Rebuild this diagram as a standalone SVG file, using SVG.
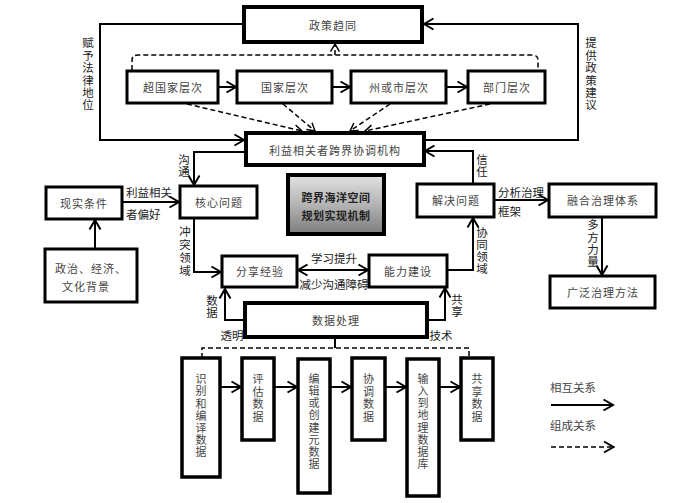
<svg xmlns="http://www.w3.org/2000/svg" width="700" height="503" viewBox="0 0 700 503">
<defs>
<marker id="ah" viewBox="0 0 10 12" refX="9.5" refY="6" markerWidth="10" markerHeight="12" markerUnits="userSpaceOnUse" orient="auto-start-reverse" overflow="visible">
<path d="M0,0.5 L9.5,6 L0,11.5" fill="none" stroke="#000" stroke-width="2"/>
</marker>
<marker id="ahs" viewBox="0 0 10 12" refX="9.5" refY="6" markerWidth="8" markerHeight="10" markerUnits="userSpaceOnUse" orient="auto" overflow="visible">
<path d="M0,0.5 L9.5,6 L0,11.5" fill="none" stroke="#000" stroke-width="1.8"/>
</marker>
<linearGradient id="g" x1="0" y1="0" x2="0" y2="1">
<stop offset="0" stop-color="#e2e2e2"/>
<stop offset="0.5" stop-color="#b4b4b4"/>
<stop offset="1" stop-color="#7c7c7c"/>
</linearGradient>
<style>
text{font-family:"Noto Sans CJK SC","Noto Sans CJK JP",sans-serif;}
.bx{fill:#fff;stroke:#000;stroke-width:3;}
.bk{fill:#fff;stroke:#000;stroke-width:4;}
.bt{font-size:11px;fill:#444;text-anchor:middle;dominant-baseline:central;letter-spacing:1px;}
.vt{font-size:11px;fill:#444;writing-mode:vertical-rl;dominant-baseline:central;}
.lb{font-size:11.5px;fill:#222;dominant-baseline:central;}
.lv{font-size:11.5px;fill:#222;writing-mode:vertical-rl;dominant-baseline:central;}
.c{fill:none;stroke:#000;stroke-width:2;}
.ca{fill:none;stroke:#000;stroke-width:2;marker-end:url(#ah);}
.d{fill:none;stroke:#000;stroke-width:1.5;stroke-dasharray:5,3;}
.da{fill:none;stroke:#000;stroke-width:1.5;stroke-dasharray:5,3;marker-end:url(#ahs);}
</style>
</defs>
<rect width="700" height="503" fill="#fff"/>

<g id="connectors">
<path class="ca" d="M244,24 H100 V140 H244"/>
<path class="ca" d="M426,140 H578 V24 H424"/>
<path class="ca" d="M218,87 H236"/>
<path class="ca" d="M332,87 H350"/>
<path class="ca" d="M446,87 H467"/>
<path class="da" d="M187,104 L302,131"/>
<path class="da" d="M283,104 L315,131"/>
<path class="da" d="M390,104 L350,131"/>
<path class="da" d="M490,104 L365,131"/>
<path class="d" d="M132,70 V60 Q132,55 138,55 H532 Q538,55 538,60 V70"/>
<path class="da" d="M335,55 V44"/>
<path class="ca" d="M246,152 H194 V185"/>
<path class="ca" d="M122,202 H179"/>
<path class="ca" d="M95,249 V220"/>
<path class="ca" d="M194,218 V272 H221"/>
<path class="ca" d="M298,270 H368" style="marker-start:url(#ah)"/>
<path class="ca" d="M473,184 V151 H425"/>
<path class="ca" d="M447,270 H473 V218"/>
<path class="ca" d="M494,200 H548"/>
<path class="ca" d="M602,217 V275"/>
<path class="ca" d="M245,320 H225 V289"/>
<path class="ca" d="M427,320 H445 V288"/>
<path class="c" d="M335,337 V348"/>
<path class="d" d="M202,358 V348 H469 V358"/>
<path class="ca" d="M220,387 H241"/>
<path class="ca" d="M274,387 H297"/>
<path class="ca" d="M330,387 H351"/>
<path class="ca" d="M385,387 H406"/>
<path class="ca" d="M439,387 H460"/>
<path class="ca" d="M551,405 H613"/>
<path class="d" d="M551,447 H611"/>
<path d="M604,441.5 L613.5,447 L604,452.5" fill="none" stroke="#000" stroke-width="2"/>
</g>

<g id="labels">
<text class="lv" x="88" y="37.25" style="letter-spacing:0.9px">赋予法律地位</text>
<text class="lv" x="591" y="37.25" style="letter-spacing:0.9px">提供政策建议</text>
<text class="lv" x="184" y="154.25" style="letter-spacing:0.5px">沟通</text>
<text class="lb" x="126" y="192">利益相关</text>
<text class="lb" x="126" y="214">者偏好</text>
<text class="lv" x="185" y="226.25" style="letter-spacing:1.5px">冲突领域</text>
<text class="lb" x="334" y="258" text-anchor="middle">学习提升</text>
<text class="lb" x="334" y="284" text-anchor="middle">减少沟通障碍</text>
<text class="lv" x="212" y="295.25" style="letter-spacing:0.5px">数据</text>
<text class="lb" x="232" y="335" text-anchor="middle">透明</text>
<text class="lv" x="457" y="294.25" style="letter-spacing:0.5px">共享</text>
<text class="lb" x="441" y="335" text-anchor="middle">技术</text>
<text class="lv" x="482" y="154.25" style="letter-spacing:0.5px">信任</text>
<text class="lv" x="482" y="227.25" style="letter-spacing:0.5px">协同领域</text>
<text class="lb" x="498" y="192">分析治理</text>
<text class="lb" x="498" y="211">框架</text>
<text class="lv" x="593" y="219.25" style="letter-spacing:0.8px">多方力量</text>
<text class="lb" x="550" y="387" style="fill:#444">相互关系</text>
<text class="lb" x="550" y="425" style="fill:#444">组成关系</text>
</g>

<g id="n-zcqt"><rect class="bk" x="244" y="7" width="178" height="35"/><text class="bt" x="333" y="25">政策趋同</text></g>
<g id="n-cgj"><rect class="bx" x="127" y="71" width="91" height="32"/><text class="bt" x="173" y="87">超国家层次</text></g>
<g id="n-gj"><rect class="bx" x="237" y="71" width="95" height="32"/><text class="bt" x="285" y="87">国家层次</text></g>
<g id="n-zhs"><rect class="bx" x="351" y="71" width="95" height="32"/><text class="bt" x="399" y="87">州或市层次</text></g>
<g id="n-bm"><rect class="bx" x="468" y="71" width="77" height="32"/><text class="bt" x="507" y="87">部门层次</text></g>
<g id="n-lyxg"><rect class="bk" x="246" y="133" width="178" height="32"/><text class="bt" x="335" y="150">利益相关者跨界协调机构</text></g>
<g id="n-xstj"><rect class="bx" x="46" y="187" width="76" height="32"/><text class="bt" x="84" y="203">现实条件</text></g>
<g id="n-hxwt"><rect class="bx" x="180" y="186" width="77" height="32"/><text class="bt" x="219" y="202">核心问题</text></g>
<g id="n-kj"><rect x="288" y="175" width="96" height="59" fill="url(#g)" stroke="#000" stroke-width="4"/><text class="bt" x="336" y="197" style="fill:#222;font-weight:bold;letter-spacing:0.5px">跨界海洋空间</text><text class="bt" x="336" y="215" style="fill:#222;font-weight:bold;letter-spacing:0.5px">规划实现机制</text></g>
<g id="n-jjwt"><rect class="bx" x="417" y="184" width="77" height="33"/><text class="bt" x="456" y="200">解决问题</text></g>
<g id="n-rh"><rect class="bx" x="549" y="184" width="107" height="33"/><text class="bt" x="603" y="200">融合治理体系</text></g>
<g id="n-zz"><rect class="bx" x="45" y="249" width="92" height="53"/><text class="bt" x="91" y="268">政治、经济、</text><text class="bt" x="86" y="286">文化背景</text></g>
<g id="n-fxjy"><rect class="bx" x="222" y="256" width="75" height="31"/><text class="bt" x="260" y="271">分享经验</text></g>
<g id="n-nljs"><rect class="bx" x="369" y="255" width="78" height="32"/><text class="bt" x="408" y="271">能力建设</text></g>
<g id="n-gf"><rect class="bx" x="550" y="276" width="105" height="32"/><text class="bt" x="603" y="292">广泛治理方法</text></g>
<g id="n-sjcl"><rect class="bk" x="245" y="303" width="182" height="34"/><text class="bt" x="336" y="320">数据处理</text></g>
<g id="n-b1"><rect class="bx" x="182" y="358" width="38" height="119" style="stroke-width:3.5"/><text class="vt" x="201" y="373.5" style="letter-spacing:1.2px">识别和编译数据</text></g>
<g id="n-b2"><rect class="bx" x="242" y="358" width="32" height="82" style="stroke-width:3.5"/><text class="vt" x="258" y="373.5" style="letter-spacing:1.5px">评估数据</text></g>
<g id="n-b3"><rect class="bx" x="298" y="359" width="32" height="134" style="stroke-width:3.5"/><text class="vt" x="314" y="373.5" style="letter-spacing:1.1px">编辑或创建元数据</text></g>
<g id="n-b4"><rect class="bx" x="352" y="358" width="33" height="82" style="stroke-width:3.5"/><text class="vt" x="368.5" y="373.5" style="letter-spacing:1.5px">协调数据</text></g>
<g id="n-b5"><rect class="bx" x="407" y="359" width="32" height="137" style="stroke-width:3.5"/><text class="vt" x="423" y="373.5" style="letter-spacing:1.1px">输入到地理数据库</text></g>
<g id="n-b6"><rect class="bx" x="461" y="358" width="32" height="82" style="stroke-width:3.5"/><text class="vt" x="477" y="373.5" style="letter-spacing:1.5px">共享数据</text></g>
</svg>
